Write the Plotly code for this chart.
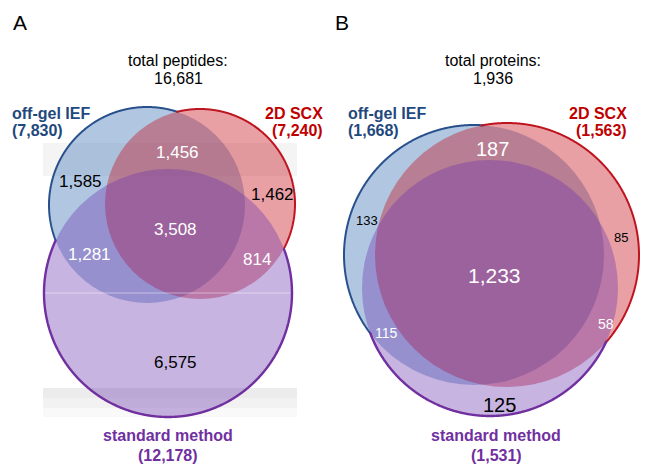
import numpy as np
import plotly.graph_objects as go

# ---------------- data ----------------
set_names = ["off-gel IEF", "2D SCX", "standard method"]

# Panel A: peptides
peptide_total = 16681
peptide_set_sizes = [7830, 7240, 12178]
# regions: only IEF, only SCX, only standard, IEF&SCX, IEF&std, SCX&std, all three
peptide_regions = [1585, 1462, 6575, 1456, 1281, 814, 3508]

# Panel B: proteins
protein_total = 1936
protein_set_sizes = [1668, 1563, 1531]
protein_regions = [133, 85, 125, 187, 115, 58, 1233]

# ---------------- layout / styles ----------------
W, H = 650, 470
FONT = "Liberation Sans, Arial, sans-serif"
fills = ["rgba(79,129,189,0.45)", "rgba(197,17,30,0.40)", "rgba(106,52,174,0.37)"]
lines = ["rgb(40,80,140)", "rgb(190,20,30)", "rgb(112,48,160)"]
line_w = [2, 2, 2.4]
label_colors = ["rgb(31,73,125)", "rgb(192,0,0)", "rgb(112,48,160)"]

# circle geometry (cx, cy, r) in page coordinates
geomA = [(147, 205, 98), (200, 204, 95), (168, 293, 124)]
geomB = [(474, 255, 130), (507, 255, 132), (490, 288, 128)]

fig = go.Figure()
shapes = []
ann = []

# faint background bands (panel A)
for (y0, y1, c) in [(143, 176, "rgb(244,244,244)"), (388, 398, "rgb(236,236,236)"),
                    (398, 408, "rgb(242,242,242)"), (408, 417, "rgb(249,249,249)")]:
    shapes.append(dict(type="rect", xref="x", yref="y", x0=43, x1=297, y0=y0, y1=y1,
                       fillcolor=c, line=dict(width=0), layer="below"))


def outer_arcs(geom, i, n=1440):
    """SVG path of the part of circle i lying outside the other circles."""
    cx, cy, r = geom[i]
    t = np.linspace(0, 2 * np.pi, n, endpoint=False)
    px, py = cx + r * np.cos(t), cy + r * np.sin(t)
    keep = np.ones(n, bool)
    for j, (ox, oy, orad) in enumerate(geom):
        if j != i:
            keep &= np.hypot(px - ox, py - oy) > orad - 0.5
    if keep.all():
        return "M" + " L".join(f"{a:.2f},{b:.2f}" for a, b in zip(px, py)) + " Z"
    start = int(np.argmin(keep))
    idx = np.roll(np.arange(n), -start)
    paths, run = [], []
    for k in idx:
        if keep[k]:
            run.append(k)
        elif run:
            paths.append(run)
            run = []
    if run:
        paths.append(run)
    out = []
    for run in paths:
        if len(run) < 2:
            continue
        out.append("M" + " L".join(f"{px[k]:.2f},{py[k]:.2f}" for k in run))
    return " ".join(out)


for geom in (geomA, geomB):
    for i, (cx, cy, r) in enumerate(geom):
        shapes.append(dict(type="circle", xref="x", yref="y",
                           x0=cx - r, x1=cx + r, y0=cy - r, y1=cy + r,
                           fillcolor=fills[i], line=dict(width=0), layer="above"))
    for i in range(3):
        p = outer_arcs(geom, i)
        if p:
            shapes.append(dict(type="path", xref="x", yref="y", path=p,
                               line=dict(color=lines[i], width=line_w[i]), layer="above"))

# faint light streak across panel A (as in the source image)
shapes.append(dict(type="line", xref="x", yref="y", x0=45, x1=290, y0=293, y1=293,
                   line=dict(color="rgba(255,255,255,0.45)", width=1), layer="above"))


def add_text(x, y, text, size, color="black", bold=False, xanchor="center"):
    if bold:
        text = f"<b>{text}</b>"
    ann.append(dict(x=x, y=y, xref="x", yref="y", text=text, showarrow=False,
                    xanchor=xanchor, yanchor="middle",
                    font=dict(family=FONT, size=size, color=color)))


def fmt(v):
    return f"{v:,}"

# panel letters
add_text(11, 22, "A", 21, xanchor="left")
add_text(333, 22, "B", 21, xanchor="left")

# totals
add_text(178, 60, "total peptides:", 16)
add_text(178, 78, fmt(peptide_total), 16)
add_text(493, 60, "total proteins:", 16)
add_text(493, 78, fmt(protein_total), 16)

# set labels panel A
add_text(10, 113, set_names[0], 16, label_colors[0], True, "left")
add_text(10, 130, f"({fmt(peptide_set_sizes[0])})", 16, label_colors[0], True, "left")
add_text(325, 113, set_names[1], 16, label_colors[1], True, "right")
add_text(325, 130, f"({fmt(peptide_set_sizes[1])})", 16, label_colors[1], True, "right")
add_text(168, 435, set_names[2], 16, label_colors[2], True)
add_text(168, 455, f"({fmt(peptide_set_sizes[2])})", 16, label_colors[2], True)

# set labels panel B
add_text(346, 113, set_names[0], 16, label_colors[0], True, "left")
add_text(346, 130, f"({fmt(protein_set_sizes[0])})", 16, label_colors[0], True, "left")
add_text(629, 113, set_names[1], 16, label_colors[1], True, "right")
add_text(629, 130, f"({fmt(protein_set_sizes[1])})", 16, label_colors[1], True, "right")
add_text(496, 435, set_names[2], 16, label_colors[2], True)
add_text(496, 455, f"({fmt(protein_set_sizes[2])})", 16, label_colors[2], True)

# region counts panel A
posA = [(80, 181), (272, 194), (175, 362), (177, 152), (89, 254), (257, 259), (175, 229)]
colA = ["black", "black", "black", "white", "white", "white", "white"]
for v, (x, y), c in zip(peptide_regions, posA, colA):
    add_text(x, y, fmt(v), 17, c)

# region counts panel B
posB = [(367, 220), (621, 237), (499, 405), (492, 149), (386, 333), (606, 324), (494, 275)]
colB = ["black", "black", "black", "white", "white", "white", "white"]
sizeB = [13, 13, 20, 20, 14, 14, 21]
for v, (x, y), c, s in zip(protein_regions, posB, colB, sizeB):
    add_text(x, y, fmt(v), s, c)

fig.update_layout(
    width=W, height=H,
    margin=dict(l=0, r=0, t=0, b=0),
    paper_bgcolor="white", plot_bgcolor="white",
    xaxis=dict(range=[0, W], visible=False, fixedrange=True),
    yaxis=dict(range=[H, 0], visible=False, fixedrange=True),
    shapes=shapes, annotations=ann, showlegend=False,
)

fig.write_html("out.html", config={"displayModeBar": False},
               post_script="document.body.style.margin='0';document.body.style.overflow='hidden';")
